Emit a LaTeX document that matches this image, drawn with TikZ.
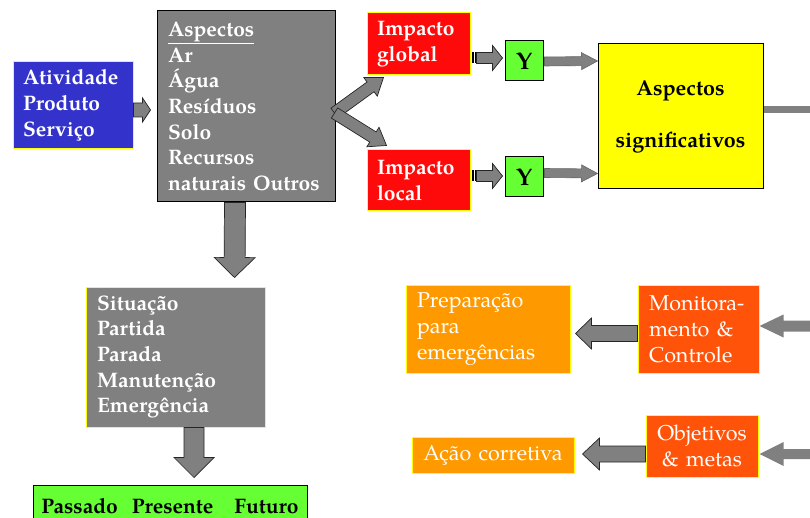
\documentclass[tikz,border=0pt]{standalone}
\usepackage{fontspec}
\setmainfont{texgyrepagella}[Extension=.otf,UprightFont=*-regular,BoldFont=*-bold,ItalicFont=*-italic,BoldItalicFont=*-bolditalic]
\usetikzlibrary{calc}
\definecolor{cblue}{HTML}{3333CC}
\definecolor{cgray}{HTML}{808080}
\definecolor{cred}{HTML}{FF0A0A}
\definecolor{cgreen}{HTML}{66FF33}
\definecolor{cyellow}{HTML}{FFFF00}
\definecolor{corange}{HTML}{FF9900}
\definecolor{cored}{HTML}{FF5309}
\tikzset{
  box/.style={rectangle, inner ysep=0pt, line width=1pt, font=\fontsize{21.5}{25.9}\selectfont},
  bfont/.style={font=\fontsize{21}{25.7}\selectfont\bfseries},
  ybord/.style={draw=cyellow},
  kbord/.style={draw=black},
  blockarrow/.style={fill=cgray, draw=black!85, line width=0.7pt, line join=miter},
  plainarrow/.style={fill=cgray, draw=none},
}
% #1 extra style, #2 from, #3 to, #4 half shaft, #5 half head, #6 head length
\newcommand\blockarr[6][]{%
  \coordinate (ba-a) at #2;
  \coordinate (ba-b) at #3;
  \coordinate (ba-c) at ($(ba-b)!#6!(ba-a)$);
  \path[blockarrow,#1] ($(ba-a)!#4!90:(ba-b)$) -- ($(ba-c)!#4!-90:(ba-a)$) -- ($(ba-c)!#5!-90:(ba-a)$) -- (ba-b) -- ($(ba-c)!#5!90:(ba-a)$) -- ($(ba-c)!#4!90:(ba-a)$) -- ($(ba-a)!#4!-90:(ba-b)$) -- cycle;}
\begin{document}
\begin{tikzpicture}[x=1pt,y=-1pt]
\useasboundingbox (0,0) rectangle (810,518);
\clip (0,0) rectangle (810,518);
\fill[white] (0,0) rectangle (810,518);

% nodes
\node[box, bfont, ybord, fill=cblue, text=white,
  minimum width=120pt, minimum height=87pt, inner xsep=10pt, text width=100pt, align=left]
  (blue) at (73,105.5) {Atividade\\Produto\\Servi\c{c}o};
\node[box, bfont, kbord, fill=cgray, text=white,
  minimum width=178pt, minimum height=191pt, inner xsep=11pt, text width=156pt, align=left]
  (asp) at (246,106.5) {\underline{Aspectos}\\Ar\\\'Agua\\Res\'iduos\\Solo\\Recursos\\naturais Outros};
\node[box, bfont, ybord, fill=cred, text=white,
  minimum width=103pt, minimum height=62pt, inner xsep=10pt, text width=83pt, align=left]
  (glob) at (418.5,44) {Impacto\\global};
\node[box, bfont, ybord, fill=cred, text=white,
  minimum width=103pt, minimum height=61pt, inner xsep=10pt, text width=83pt, align=left]
  (loc) at (418.5,180.5) {Impacto\\local};
\node[box, kbord, fill=cgreen, font=\fontsize{24}{26}\selectfont\bfseries,
  minimum width=38pt, minimum height=40pt, inner xsep=0pt] (y1) at (524,61) {Y};
\node[box, kbord, fill=cgreen, font=\fontsize{24}{26}\selectfont\bfseries,
  minimum width=38pt, minimum height=40pt, inner xsep=0pt] (y2) at (524,177) {Y};
\node[box, kbord, fill=cyellow, font=\fontsize{21.5}{26}\selectfont\bfseries,
  minimum width=165pt, minimum height=145pt, inner xsep=0pt, text width=165pt, align=center]
  (sig) at (680.5,116.5) {Aspectos\\[26pt]significativos};
\node[box, bfont, ybord, fill=cgray, text=white,
  minimum width=179pt, minimum height=140pt, inner xsep=11pt, text width=157pt, align=left]
  (sit) at (175.5,357) {Situa\c{c}\~ao\\Partida\\Parada\\Manuten\c{c}\~ao\\Emerg\^encia};
\node[box, bfont, kbord, fill=cgreen,
  minimum width=274pt, minimum height=42pt, inner xsep=0pt, text width=274pt, align=center]
  (pas) at (170,506) {Passado\ \ Presente\ \ \ Futuro};
\node[box, ybord, fill=corange, text=white,
  minimum width=164pt, minimum height=88pt, inner xsep=11pt, text width=142pt, align=left]
  (prep) at (488,329) {Prepara\c{c}\~ao\\para\\emerg\^encias};
\node[box, ybord, fill=cored, text=white,
  minimum width=121pt, minimum height=88pt, inner xsep=11pt, text width=99pt, align=left]
  (mon) at (698.5,329) {Monitora-\\mento \&\\Controle};
\node[box, ybord, fill=corange, text=white,
  minimum width=162pt, minimum height=36pt, inner xsep=0pt, text width=162pt, align=center]
  (acao) at (493,455) {A\c{c}\~ao corretiva};
\node[box, ybord, fill=cored, text=white,
  minimum width=112pt, minimum height=62pt, inner xsep=0pt, text width=112pt, align=center]
  (obj) at (702,446) {Objetivos\\\& metas};

% free ends at the right edge
\coordinate (edgeA) at (815,326);
\coordinate (edgeB) at (815,454);
\coordinate (edgeC) at (815,113);

% connectors
\blockarr{($(blue.east)+(0,4.5)$)}{($(asp.west)+(-6,3.5)$)}{7pt}{12pt}{8pt}
\blockarr{($(asp.east)+(-1,6.5)$)}{($(glob.south west)+(17,2)$)}{6pt}{11.5pt}{16pt}
\blockarr{($(asp.east)+(-1,6.5)$)}{($(loc.north west)+(20,-4)$)}{6pt}{11.5pt}{16pt}
% striped tails
\fill[black] ($(glob.east)+(1,8.5)$) rectangle ($(glob.east)+(3,19.5)$);
\fill[black] ($(glob.east)+(4,8.5)$) rectangle ($(glob.east)+(5.5,19.5)$);
\fill[black] ($(loc.east)+(1,-10)$) rectangle ($(loc.east)+(3,1)$);
\fill[black] ($(loc.east)+(4,-10)$) rectangle ($(loc.east)+(5.5,1)$);
\blockarr{($(glob.east)+(6,14)$)}{($(y1.west)+(-2,-3)$)}{5.5pt}{12.5pt}{10pt}
\blockarr{($(loc.east)+(6,-4.5)$)}{($(y2.west)+(-2,-1)$)}{5.5pt}{12.5pt}{10pt}
\blockarr[draw=black!60,line width=0.6pt]{($(y1.east)+(1,0.5)$)}{($(sig.north west)+(0,17.5)$)}{4.5pt}{8.5pt}{16pt}
\blockarr[draw=black!60,line width=0.6pt]{($(y2.east)+(1,-4)$)}{($(sig.south west)+(0,-16)$)}{4.5pt}{8.5pt}{16pt}
\fill[cgray] ($(sig.east)+(0.5,-10.5)$) rectangle (edgeC);
\blockarr{(asp.south -| {235,0})}{($(sit.north west)+(149,-9)$)}{10.5pt}{20.5pt}{20pt}
\blockarr{(sit.south -| {194,0})}{($(pas.north)+(24,-7)$)}{10pt}{20pt}{20pt}
\blockarr{($(mon.west)+(0,4.5)$)}{($(prep.east)+(5,4.5)$)}{8pt}{15.5pt}{16pt}
\blockarr{($(obj.west)+(0,8)$)}{($(acao.east)+(8,-1)$)}{8pt}{16pt}{17pt}
\blockarr[plainarrow]{(edgeA)}{($(mon.east)+(0,-3)$)}{5.5pt}{11.5pt}{24pt}
\blockarr[plainarrow]{(edgeB)}{($(obj.east)+(1,8)$)}{5pt}{12pt}{24pt}
\end{tikzpicture}
\end{document}
